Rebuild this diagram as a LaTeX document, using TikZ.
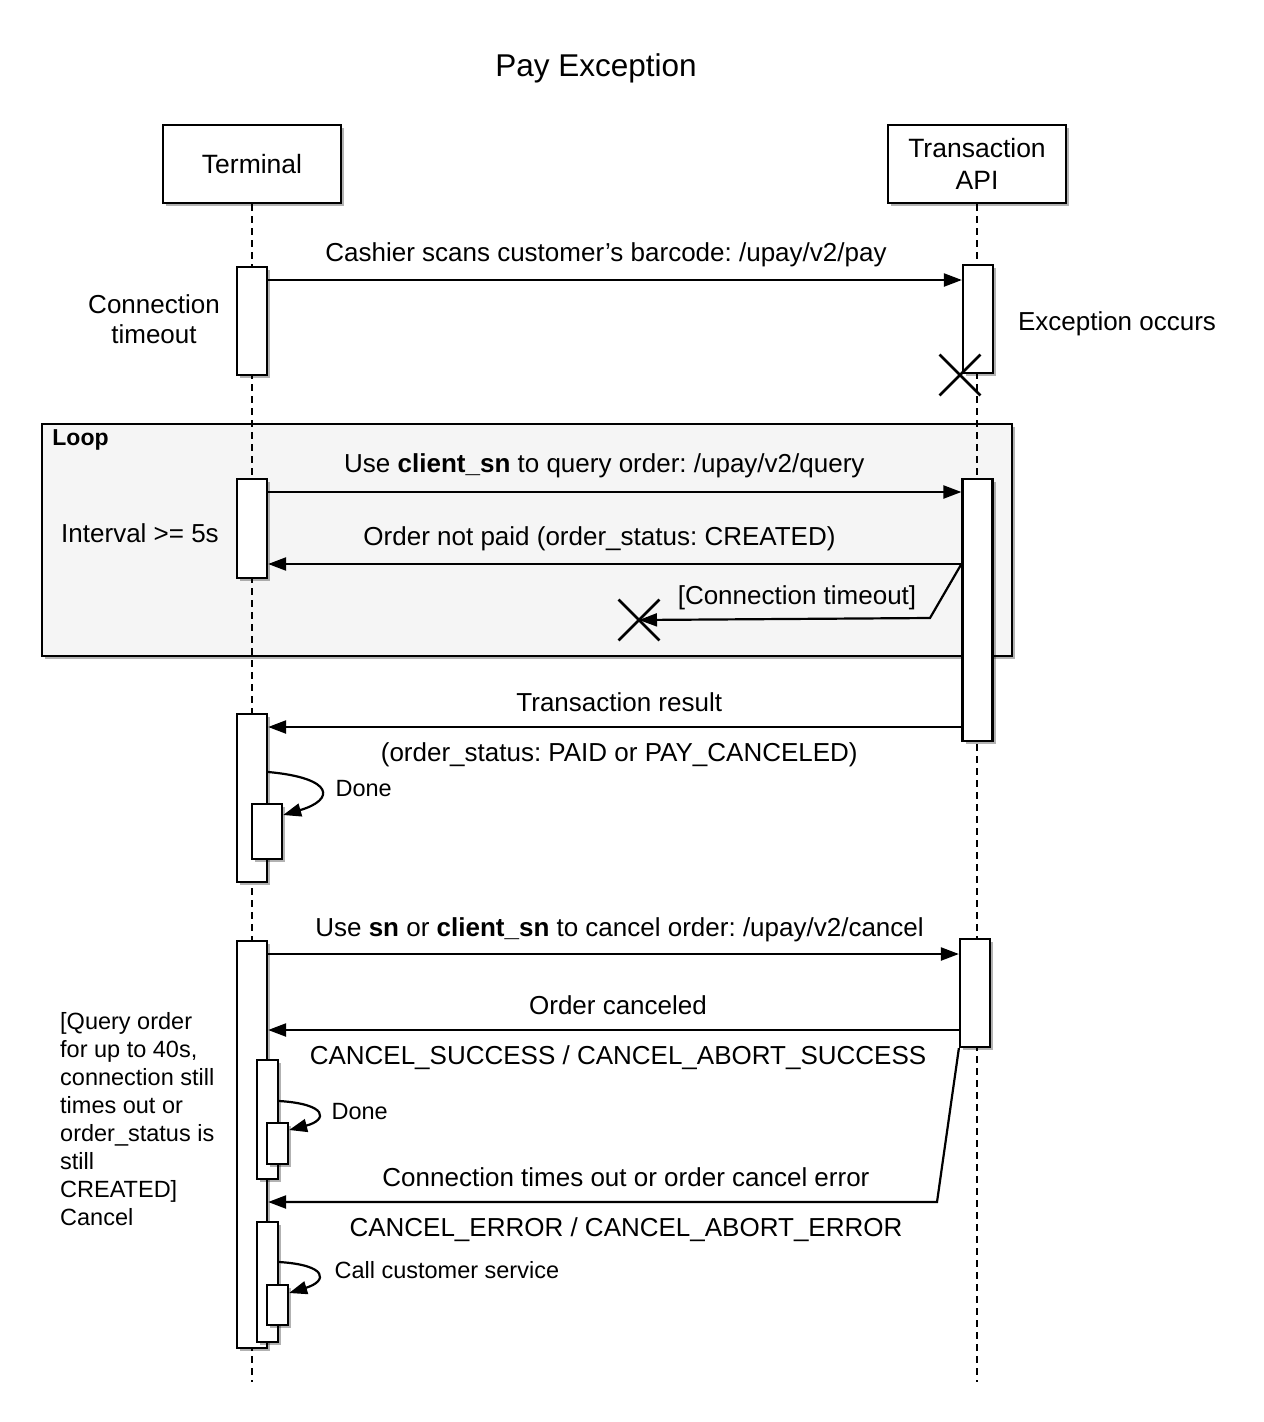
\documentclass[tikz,border=0pt]{standalone}
\usepackage{fontspec}
\setmainfont{Liberation Sans}
\usepackage{tikz}
\usetikzlibrary{arrows.meta,positioning,calc,shapes.misc,shadows}
\definecolor{loopgray}{HTML}{F5F5F5}
\frenchspacing

\begin{document}
\begin{tikzpicture}[x=1pt, y=-1pt, >={Triangle[length=18pt,width=13pt]},
  softshadow/.style={drop shadow={shadow xshift=3pt, shadow yshift=-3pt, opacity=0.3, fill=black}},
  headbox/.style={draw, fill=white, line width=2.2pt, minimum width=178pt, minimum height=78pt,
    align=center, softshadow, font=\fontsize{26.5}{32}\selectfont},
  loopbox/.style={draw, fill=loopgray, line width=2.2pt, minimum width=970pt, minimum height=232pt, softshadow},
  actbar/.style={draw, fill=white, line width=2.2pt, minimum width=30pt, inner sep=0pt, softshadow},
  lifeline/.style={draw, line width=2.2pt, dash pattern=on 7pt off 5pt},
  msg/.style={draw, line width=2.2pt, ->},
  killmark/.style={draw, cross out, line width=2.8pt, minimum size=38pt, inner sep=0pt},
  lbl/.style={font=\fontsize{26}{30}\selectfont, anchor=base},
  sidetext/.style={font=\fontsize{26}{30}\selectfont, align=center},
  notetext/.style={font=\fontsize{23.5}{28}\selectfont, align=left},
  looptext/.style={font=\fontsize{23}{28}\selectfont\bfseries}]

  \useasboundingbox (0,0) rectangle (1264,1422);

  % Define nodes
  \node[font=\fontsize{31.5}{36}\selectfont, anchor=base] (title) at (596,76) {Pay Exception};
  \node[loopbox] (loop) at (527,540) {};
  \node[looptext, anchor=base west] (looplbl) at ([xshift=8pt, yshift=-23pt]loop.north west) {Loop};

  \node[headbox] (term) at (252,164) {Terminal};
  \node[headbox] (api) at (977,164) {Transaction\\API};
  \coordinate (termend) at (252,1382);
  \coordinate (apiend) at (977,1382);
  \draw[lifeline] (term.south) -- (termend);
  \draw[lifeline] (api.south) -- (apiend);

  % Activation bars
  \node[actbar, minimum height=108pt] (ta1) at (252,321) {};
  \node[actbar, minimum height=108pt] (aa1) at (978,319) {};
  \node[actbar, minimum height=99pt] (ta2) at (252,528.5) {};
  \node[actbar, minimum height=262pt] (aa2) at (977.5,610) {};
  \node[actbar, minimum height=168pt] (ta3) at (252,798) {};
  \node[actbar, minimum height=55pt] (tn3) at (267,831.5) {};
  \node[actbar, minimum height=407pt] (ta4) at (252,1144.5) {};
  \node[actbar, minimum width=21pt, minimum height=119pt] (tn4) at (267.5,1119.5) {};
  \node[actbar, minimum width=21pt, minimum height=41pt] (ti4) at (277.5,1143.5) {};
  \node[actbar, minimum width=21pt, minimum height=120pt] (tn5) at (267.5,1282) {};
  \node[actbar, minimum width=21pt, minimum height=40pt] (ti5) at (277.5,1305) {};
  \node[actbar, minimum height=108pt] (aa3) at (975,993) {};

  \node[killmark] (x1) at (960,375) {};
  \node[killmark] (x2) at (639,620) {};
  \coordinate (bend1) at (930,618);
  \coordinate (bend2) at (937,1202);

  % Side notes
  \node[sidetext] (timeout) at (154,319) {Connection\\timeout};
  \node[lbl] (exc) at (1117,330) {Exception occurs};
  \node[lbl] (interval) at (140,542) {Interval >= 5s};
  \node[notetext, anchor=north west, inner sep=0pt] (cancelnote) at (60,1012)
    {[Query order\\for up to 40s,\\connection still\\times out or\\order\_status is\\still\\CREATED]\\Cancel};
  \node[notetext, anchor=base west] (done1) at (332,796) {Done};
  \node[notetext, anchor=base west] (done2) at (328,1119) {Done};
  \node[notetext, anchor=base west] (callcs) at (331,1278) {Call customer service};

  % Draw arrows
  \draw[msg] (ta1.east |- 0,280) -- node[lbl, pos=0.487, yshift=19pt]
    {Cashier scans customer’s barcode: /upay/v2/pay} (aa1.west |- 0,280);
  \draw[msg] (ta2.east |- 0,492) -- node[lbl, pos=0.485, yshift=20pt]
    {Use \textbf{client\_sn} to query order: /upay/v2/query} (aa2.west |- 0,492);
  \draw[msg] (aa2.west |- 0,564) -- node[lbl, pos=0.522, yshift=19pt]
    {Order not paid (order\_status: CREATED)} (ta2.east |- 0,564);
  \draw[msg] (aa2.west |- 0,564) -- (bend1) -- node[lbl, pos=0.457, yshift=14pt]
    {[Connection timeout]} (x2.center);
  \draw[msg] (aa2.west |- 0,727) -- node[lbl, pos=0.4935, yshift=16pt] {Transaction result}
    node[lbl, pos=0.4935, yshift=-34pt] {(order\_status: PAID or PAY\_CANCELED)} (ta3.east |- 0,727);
  \draw[msg] (ta3.east |- 0,772) .. controls (335,778) and (335,800) .. (tn3.east |- 0,815);

  \draw[msg] (ta4.east |- 0,954) -- node[lbl, pos=0.5087, yshift=18pt]
    {Use \textbf{sn} or \textbf{client\_sn} to cancel order: /upay/v2/cancel} (aa3.west |- 0,954);
  \draw[msg] (aa3.west |- 0,1030) -- node[lbl, pos=0.4935, yshift=16pt] {Order canceled}
    node[lbl, pos=0.4935, yshift=-34pt] {CANCEL\_SUCCESS / CANCEL\_ABORT\_SUCCESS} (ta4.east |- 0,1030);
  \draw[msg] (tn4.east |- 0,1101) .. controls (328,1104) and (328,1120) .. (ti4.east |- 0,1130);
  \draw[msg] (aa3.south west) -- (bend2) -- node[lbl, pos=0.465, yshift=16pt]
    {Connection times out or order cancel error}
    node[lbl, pos=0.465, yshift=-34pt] {CANCEL\_ERROR / CANCEL\_ABORT\_ERROR} (ta4.east |- bend2);
  \draw[msg] (tn5.east |- 0,1262) .. controls (328,1265) and (328,1281) .. (ti5.east |- 0,1293);
\end{tikzpicture}
\end{document}
